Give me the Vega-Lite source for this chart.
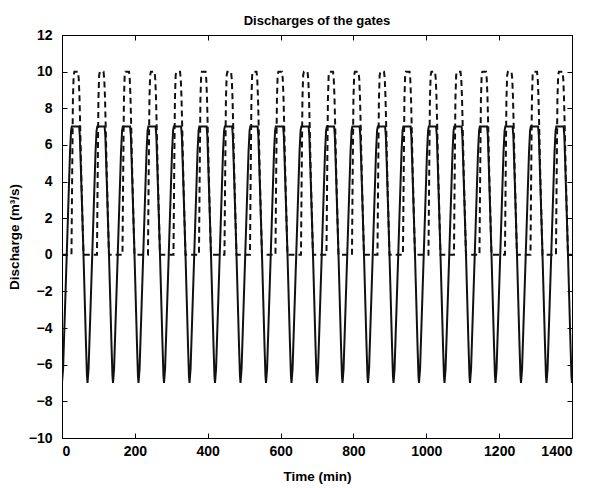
{
  "$schema": "https://vega.github.io/schema/vega-lite/v6.json",
  "width": 510,
  "height": 403,
  "autosize": "none",
  "padding": {"left": 62, "top": 35, "right": 18, "bottom": 50},
  "background": "white",
  "config": {
    "view": {"stroke": "black", "strokeWidth": 1},
    "font": "Liberation Sans",
    "axis": {"grid": false, "domain": false, "tickColor": "black", "tickSize": -5, "labelColor": "black", "labelFont": "Liberation Sans", "labelFontWeight": "bold", "labelFontSize": 14, "titleFont": "Liberation Sans", "titleFontWeight": "bold", "titleFontSize": 13.5, "titleColor": "black"}
  },
  "title": {"text": "Discharges of the gates", "font": "Liberation Sans", "fontSize": 13, "fontWeight": "bold", "color": "black", "offset": 0, "anchor": "middle"},
  "datasets": {
    "solid": [
      {"t":0,"q":-7},{"t":3,"q":-6.2},{"t":13,"q":0},{"t":22,"q":5.6},{"t":25,"q":6.8},{"t":27,"q":7},{"t":47,"q":7},{"t":49,"q":6.5},{"t":52,"q":4.6},{"t":59,"q":0},{"t":66,"q":-5},{"t":68.5,"q":-6.6},
      {"t":70,"q":-7},{"t":73,"q":-6.2},{"t":83,"q":0},{"t":92,"q":5.6},{"t":95,"q":6.8},{"t":97,"q":7},{"t":117,"q":7},{"t":119,"q":6.5},{"t":122,"q":4.6},{"t":129,"q":0},{"t":136,"q":-5},{"t":138.5,"q":-6.6},
      {"t":140,"q":-7},{"t":143,"q":-6.2},{"t":153,"q":0},{"t":162,"q":5.6},{"t":165,"q":6.8},{"t":167,"q":7},{"t":187,"q":7},{"t":189,"q":6.5},{"t":192,"q":4.6},{"t":199,"q":0},{"t":206,"q":-5},{"t":208.5,"q":-6.6},
      {"t":210,"q":-7},{"t":213,"q":-6.2},{"t":223,"q":0},{"t":232,"q":5.6},{"t":235,"q":6.8},{"t":237,"q":7},{"t":257,"q":7},{"t":259,"q":6.5},{"t":262,"q":4.6},{"t":269,"q":0},{"t":276,"q":-5},{"t":278.5,"q":-6.6},
      {"t":280,"q":-7},{"t":283,"q":-6.2},{"t":293,"q":0},{"t":302,"q":5.6},{"t":305,"q":6.8},{"t":307,"q":7},{"t":327,"q":7},{"t":329,"q":6.5},{"t":332,"q":4.6},{"t":339,"q":0},{"t":346,"q":-5},{"t":348.5,"q":-6.6},
      {"t":350,"q":-7},{"t":353,"q":-6.2},{"t":363,"q":0},{"t":372,"q":5.6},{"t":375,"q":6.8},{"t":377,"q":7},{"t":397,"q":7},{"t":399,"q":6.5},{"t":402,"q":4.6},{"t":409,"q":0},{"t":416,"q":-5},{"t":418.5,"q":-6.6},
      {"t":420,"q":-7},{"t":423,"q":-6.2},{"t":433,"q":0},{"t":442,"q":5.6},{"t":445,"q":6.8},{"t":447,"q":7},{"t":467,"q":7},{"t":469,"q":6.5},{"t":472,"q":4.6},{"t":479,"q":0},{"t":486,"q":-5},{"t":488.5,"q":-6.6},
      {"t":490,"q":-7},{"t":493,"q":-6.2},{"t":503,"q":0},{"t":512,"q":5.6},{"t":515,"q":6.8},{"t":517,"q":7},{"t":537,"q":7},{"t":539,"q":6.5},{"t":542,"q":4.6},{"t":549,"q":0},{"t":556,"q":-5},{"t":558.5,"q":-6.6},
      {"t":560,"q":-7},{"t":563,"q":-6.2},{"t":573,"q":0},{"t":582,"q":5.6},{"t":585,"q":6.8},{"t":587,"q":7},{"t":607,"q":7},{"t":609,"q":6.5},{"t":612,"q":4.6},{"t":619,"q":0},{"t":626,"q":-5},{"t":628.5,"q":-6.6},
      {"t":630,"q":-7},{"t":633,"q":-6.2},{"t":643,"q":0},{"t":652,"q":5.6},{"t":655,"q":6.8},{"t":657,"q":7},{"t":677,"q":7},{"t":679,"q":6.5},{"t":682,"q":4.6},{"t":689,"q":0},{"t":696,"q":-5},{"t":698.5,"q":-6.6},
      {"t":700,"q":-7},{"t":703,"q":-6.2},{"t":713,"q":0},{"t":722,"q":5.6},{"t":725,"q":6.8},{"t":727,"q":7},{"t":747,"q":7},{"t":749,"q":6.5},{"t":752,"q":4.6},{"t":759,"q":0},{"t":766,"q":-5},{"t":768.5,"q":-6.6},
      {"t":770,"q":-7},{"t":773,"q":-6.2},{"t":783,"q":0},{"t":792,"q":5.6},{"t":795,"q":6.8},{"t":797,"q":7},{"t":817,"q":7},{"t":819,"q":6.5},{"t":822,"q":4.6},{"t":829,"q":0},{"t":836,"q":-5},{"t":838.5,"q":-6.6},
      {"t":840,"q":-7},{"t":843,"q":-6.2},{"t":853,"q":0},{"t":862,"q":5.6},{"t":865,"q":6.8},{"t":867,"q":7},{"t":887,"q":7},{"t":889,"q":6.5},{"t":892,"q":4.6},{"t":899,"q":0},{"t":906,"q":-5},{"t":908.5,"q":-6.6},
      {"t":910,"q":-7},{"t":913,"q":-6.2},{"t":923,"q":0},{"t":932,"q":5.6},{"t":935,"q":6.8},{"t":937,"q":7},{"t":957,"q":7},{"t":959,"q":6.5},{"t":962,"q":4.6},{"t":969,"q":0},{"t":976,"q":-5},{"t":978.5,"q":-6.6},
      {"t":980,"q":-7},{"t":983,"q":-6.2},{"t":993,"q":0},{"t":1002,"q":5.6},{"t":1005,"q":6.8},{"t":1007,"q":7},{"t":1027,"q":7},{"t":1029,"q":6.5},{"t":1032,"q":4.6},{"t":1039,"q":0},{"t":1046,"q":-5},{"t":1048.5,"q":-6.6},
      {"t":1050,"q":-7},{"t":1053,"q":-6.2},{"t":1063,"q":0},{"t":1072,"q":5.6},{"t":1075,"q":6.8},{"t":1077,"q":7},{"t":1097,"q":7},{"t":1099,"q":6.5},{"t":1102,"q":4.6},{"t":1109,"q":0},{"t":1116,"q":-5},{"t":1118.5,"q":-6.6},
      {"t":1120,"q":-7},{"t":1123,"q":-6.2},{"t":1133,"q":0},{"t":1142,"q":5.6},{"t":1145,"q":6.8},{"t":1147,"q":7},{"t":1167,"q":7},{"t":1169,"q":6.5},{"t":1172,"q":4.6},{"t":1179,"q":0},{"t":1186,"q":-5},{"t":1188.5,"q":-6.6},
      {"t":1190,"q":-7},{"t":1193,"q":-6.2},{"t":1203,"q":0},{"t":1212,"q":5.6},{"t":1215,"q":6.8},{"t":1217,"q":7},{"t":1237,"q":7},{"t":1239,"q":6.5},{"t":1242,"q":4.6},{"t":1249,"q":0},{"t":1256,"q":-5},{"t":1258.5,"q":-6.6},
      {"t":1260,"q":-7},{"t":1263,"q":-6.2},{"t":1273,"q":0},{"t":1282,"q":5.6},{"t":1285,"q":6.8},{"t":1287,"q":7},{"t":1307,"q":7},{"t":1309,"q":6.5},{"t":1312,"q":4.6},{"t":1319,"q":0},{"t":1326,"q":-5},{"t":1328.5,"q":-6.6},
      {"t":1330,"q":-7},{"t":1333,"q":-6.2},{"t":1343,"q":0},{"t":1352,"q":5.6},{"t":1355,"q":6.8},{"t":1357,"q":7},{"t":1377,"q":7},{"t":1379,"q":6.5},{"t":1382,"q":4.6},{"t":1389,"q":0},{"t":1396,"q":-5},{"t":1398.5,"q":-6.6},
      {"t":1400,"q":-7}
    ],
    "dashed": [
      {"t":0,"q":0},
      {"t":26,"q":0},{"t":28,"q":4.5},{"t":30,"q":8.5},{"t":32,"q":9.8},{"t":34,"q":10},{"t":44,"q":10},{"t":46,"q":9.6},{"t":48,"q":8.6},{"t":50,"q":7},{"t":53,"q":4.3},{"t":59,"q":0},
      {"t":96,"q":0},{"t":98,"q":4.5},{"t":100,"q":8.5},{"t":102,"q":9.8},{"t":104,"q":10},{"t":114,"q":10},{"t":116,"q":9.6},{"t":118,"q":8.6},{"t":120,"q":7},{"t":123,"q":4.3},{"t":129,"q":0},
      {"t":166,"q":0},{"t":168,"q":4.5},{"t":170,"q":8.5},{"t":172,"q":9.8},{"t":174,"q":10},{"t":184,"q":10},{"t":186,"q":9.6},{"t":188,"q":8.6},{"t":190,"q":7},{"t":193,"q":4.3},{"t":199,"q":0},
      {"t":236,"q":0},{"t":238,"q":4.5},{"t":240,"q":8.5},{"t":242,"q":9.8},{"t":244,"q":10},{"t":254,"q":10},{"t":256,"q":9.6},{"t":258,"q":8.6},{"t":260,"q":7},{"t":263,"q":4.3},{"t":269,"q":0},
      {"t":306,"q":0},{"t":308,"q":4.5},{"t":310,"q":8.5},{"t":312,"q":9.8},{"t":314,"q":10},{"t":324,"q":10},{"t":326,"q":9.6},{"t":328,"q":8.6},{"t":330,"q":7},{"t":333,"q":4.3},{"t":339,"q":0},
      {"t":376,"q":0},{"t":378,"q":4.5},{"t":380,"q":8.5},{"t":382,"q":9.8},{"t":384,"q":10},{"t":394,"q":10},{"t":396,"q":9.6},{"t":398,"q":8.6},{"t":400,"q":7},{"t":403,"q":4.3},{"t":409,"q":0},
      {"t":446,"q":0},{"t":448,"q":4.5},{"t":450,"q":8.5},{"t":452,"q":9.8},{"t":454,"q":10},{"t":464,"q":10},{"t":466,"q":9.6},{"t":468,"q":8.6},{"t":470,"q":7},{"t":473,"q":4.3},{"t":479,"q":0},
      {"t":516,"q":0},{"t":518,"q":4.5},{"t":520,"q":8.5},{"t":522,"q":9.8},{"t":524,"q":10},{"t":534,"q":10},{"t":536,"q":9.6},{"t":538,"q":8.6},{"t":540,"q":7},{"t":543,"q":4.3},{"t":549,"q":0},
      {"t":586,"q":0},{"t":588,"q":4.5},{"t":590,"q":8.5},{"t":592,"q":9.8},{"t":594,"q":10},{"t":604,"q":10},{"t":606,"q":9.6},{"t":608,"q":8.6},{"t":610,"q":7},{"t":613,"q":4.3},{"t":619,"q":0},
      {"t":656,"q":0},{"t":658,"q":4.5},{"t":660,"q":8.5},{"t":662,"q":9.8},{"t":664,"q":10},{"t":674,"q":10},{"t":676,"q":9.6},{"t":678,"q":8.6},{"t":680,"q":7},{"t":683,"q":4.3},{"t":689,"q":0},
      {"t":726,"q":0},{"t":728,"q":4.5},{"t":730,"q":8.5},{"t":732,"q":9.8},{"t":734,"q":10},{"t":744,"q":10},{"t":746,"q":9.6},{"t":748,"q":8.6},{"t":750,"q":7},{"t":753,"q":4.3},{"t":759,"q":0},
      {"t":796,"q":0},{"t":798,"q":4.5},{"t":800,"q":8.5},{"t":802,"q":9.8},{"t":804,"q":10},{"t":814,"q":10},{"t":816,"q":9.6},{"t":818,"q":8.6},{"t":820,"q":7},{"t":823,"q":4.3},{"t":829,"q":0},
      {"t":866,"q":0},{"t":868,"q":4.5},{"t":870,"q":8.5},{"t":872,"q":9.8},{"t":874,"q":10},{"t":884,"q":10},{"t":886,"q":9.6},{"t":888,"q":8.6},{"t":890,"q":7},{"t":893,"q":4.3},{"t":899,"q":0},
      {"t":936,"q":0},{"t":938,"q":4.5},{"t":940,"q":8.5},{"t":942,"q":9.8},{"t":944,"q":10},{"t":954,"q":10},{"t":956,"q":9.6},{"t":958,"q":8.6},{"t":960,"q":7},{"t":963,"q":4.3},{"t":969,"q":0},
      {"t":1006,"q":0},{"t":1008,"q":4.5},{"t":1010,"q":8.5},{"t":1012,"q":9.8},{"t":1014,"q":10},{"t":1024,"q":10},{"t":1026,"q":9.6},{"t":1028,"q":8.6},{"t":1030,"q":7},{"t":1033,"q":4.3},{"t":1039,"q":0},
      {"t":1076,"q":0},{"t":1078,"q":4.5},{"t":1080,"q":8.5},{"t":1082,"q":9.8},{"t":1084,"q":10},{"t":1094,"q":10},{"t":1096,"q":9.6},{"t":1098,"q":8.6},{"t":1100,"q":7},{"t":1103,"q":4.3},{"t":1109,"q":0},
      {"t":1146,"q":0},{"t":1148,"q":4.5},{"t":1150,"q":8.5},{"t":1152,"q":9.8},{"t":1154,"q":10},{"t":1164,"q":10},{"t":1166,"q":9.6},{"t":1168,"q":8.6},{"t":1170,"q":7},{"t":1173,"q":4.3},{"t":1179,"q":0},
      {"t":1216,"q":0},{"t":1218,"q":4.5},{"t":1220,"q":8.5},{"t":1222,"q":9.8},{"t":1224,"q":10},{"t":1234,"q":10},{"t":1236,"q":9.6},{"t":1238,"q":8.6},{"t":1240,"q":7},{"t":1243,"q":4.3},{"t":1249,"q":0},
      {"t":1286,"q":0},{"t":1288,"q":4.5},{"t":1290,"q":8.5},{"t":1292,"q":9.8},{"t":1294,"q":10},{"t":1304,"q":10},{"t":1306,"q":9.6},{"t":1308,"q":8.6},{"t":1310,"q":7},{"t":1313,"q":4.3},{"t":1319,"q":0},
      {"t":1356,"q":0},{"t":1358,"q":4.5},{"t":1360,"q":8.5},{"t":1362,"q":9.8},{"t":1364,"q":10},{"t":1374,"q":10},{"t":1376,"q":9.6},{"t":1378,"q":8.6},{"t":1380,"q":7},{"t":1383,"q":4.3},{"t":1389,"q":0},
      {"t":1400,"q":0}
    ]
  },
  "layer": [
    {
      "data": {"name": "solid"},
      "mark": {"type": "line", "color": "#111111", "strokeWidth": 2, "clip": true},
      "encoding": {
        "x": {"field": "t", "type": "quantitative", "scale": {"domain": [0, 1400], "nice": false},
              "axis": {"orient": "bottom", "values": [0,200,400,600,800,1000,1200,1400], "format": "d", "title": "Time (min)", "labelPadding": 11, "titlePadding": 11}},
        "y": {"field": "q", "type": "quantitative", "scale": {"domain": [-10, 12], "nice": false},
              "axis": {"orient": "left", "values": [-10,-8,-6,-4,-2,0,2,4,6,8,10,12], "format": "d", "title": "Discharge (m³/s)", "labelPadding": 15, "titlePadding": 7}}
      }
    },
    {
      "data": {"name": "dashed"},
      "mark": {"type": "line", "color": "#111111", "strokeWidth": 2, "strokeDash": [6, 4], "clip": true},
      "encoding": {
        "x": {"field": "t", "type": "quantitative", "axis": {"orient": "top", "values": [0,200,400,600,800,1000,1200,1400], "labels": false, "title": null}},
        "y": {"field": "q", "type": "quantitative", "axis": {"orient": "right", "values": [-10,-8,-6,-4,-2,0,2,4,6,8,10,12], "labels": false, "title": null}}
      }
    }
  ],
  "resolve": {"axis": {"x": "independent", "y": "independent"}}
}
